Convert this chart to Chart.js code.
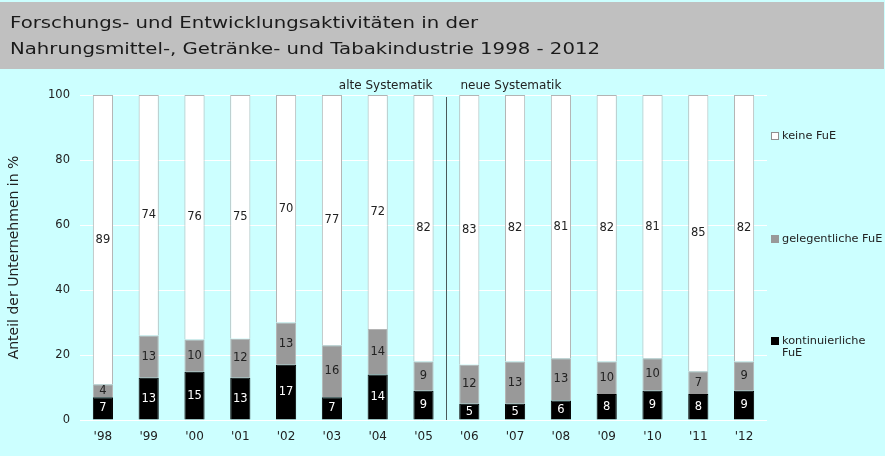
<!DOCTYPE html>
<html>
<head>
<meta charset="utf-8">
<script src="https://cdn.jsdelivr.net/npm/chart.js@4"></script>
<style>
  html, body { margin: 0; padding: 0; background: #CCFFFF; }
  canvas { display: block; }
</style>
</head>
<body>
<canvas id="c" width="885" height="456"></canvas>
<script>
// ---- data ----
const years = ["'98", "'99", "'00", "'01", "'02", "'03", "'04", "'05", "'06", "'07", "'08", "'09", "'10", "'11", "'12"];
const kontinuierlicheFuE = [7, 13, 15, 13, 17, 7, 14, 9, 5, 5, 6, 8, 9, 8, 9];
const gelegentlicheFuE = [4, 13, 10, 12, 13, 16, 14, 9, 12, 13, 13, 10, 10, 7, 9];
const keineFuE = [89, 74, 76, 75, 70, 77, 72, 82, 83, 82, 81, 82, 81, 85, 82];
const yTickValues = [0, 20, 40, 60, 80, 100];
const seriesNames = ["kontinuierliche FuE", "gelegentliche FuE", "keine FuE"];
const periodLabels = ["alte Systematik", "neue Systematik"];
const titleLines = ["Forschungs- und Entwicklungsaktivitäten in der", "Nahrungsmittel-, Getränke- und Tabakindustrie 1998 - 2012"];
const yAxisTitle = "Anteil der Unternehmen in %";
const breakAfterIndex = 7; // separator between '05 and '06

// 100%-stacked shares
const totals = years.map((_, i) => kontinuierlicheFuE[i] + gelegentlicheFuE[i] + keineFuE[i]);
const share = arr => arr.map((v, i) => v / totals[i] * 100);
const rawSeries = [kontinuierlicheFuE, gelegentlicheFuE, keineFuE];

const FONT = "'DejaVu Sans', Verdana, sans-serif";
const colors = ['#000000', '#999999', '#FFFFFF'];
const borders = ['#000000', '#B4B4B4', '#B4B4B4'];
const labelColors = ['#FFFFFF', '#222222', '#222222'];

const framePlugin = {
  id: 'frame',
  beforeDraw(chart) {
    const ctx = chart.ctx;
    ctx.save();
    ctx.fillStyle = '#CCFFFF';
    ctx.fillRect(0, 0, chart.width, chart.height);
    ctx.fillStyle = '#C0C0C0';
    ctx.fillRect(0, 2, 884, 67);
    ctx.fillStyle = '#1a1a1a';
    ctx.font = "16px " + FONT;
    ctx.textBaseline = 'alphabetic';
    ctx.textAlign = 'left';
    const w2 = ctx.measureText(titleLines[1]).width;
    const sx = 590 / w2;
    ctx.translate(10, 0);
    ctx.scale(sx, 1);
    ctx.fillText(titleLines[0], 0, 28);
    ctx.fillText(titleLines[1], 0, 54);
    ctx.restore();
  },
  afterDatasetsDraw(chart) {
    const ctx = chart.ctx;
    const xs = chart.scales.x;
    const ca = chart.chartArea;
    ctx.save();
    // separator
    const sx = Math.round((xs.getPixelForValue(breakAfterIndex) + xs.getPixelForValue(breakAfterIndex + 1)) / 2) + 0.5;
    ctx.strokeStyle = '#4A5A5A';
    ctx.lineWidth = 1;
    ctx.beginPath();
    ctx.moveTo(sx, ca.top + 2);
    ctx.lineTo(sx, ca.bottom);
    ctx.stroke();
    ctx.font = '12px ' + FONT;
    ctx.fillStyle = '#222222';
    ctx.textBaseline = 'middle';
    ctx.textAlign = 'right';
    ctx.fillText(periodLabels[0], sx - 14, ca.top - 9);
    ctx.textAlign = 'left';
    ctx.fillText(periodLabels[1], sx + 14, ca.top - 9);

    // data labels
    ctx.font = '11.5px ' + FONT;
    ctx.textAlign = 'center';
    chart.data.datasets.forEach((ds, di) => {
      const meta = chart.getDatasetMeta(di);
      meta.data.forEach((el, i) => {
        ctx.fillStyle = labelColors[di];
        ctx.fillText(String(rawSeries[di][i]), el.x, (el.y + el.base) / 2);
      });
    });

    // legend
    ctx.font = '11.3px ' + FONT;
    const items = [
      { name: [seriesNames[2]], y: 136, di: 2 },
      { name: [seriesNames[1]], y: 239, di: 1 },
      { name: ['kontinuierliche', 'FuE'], y: 341, di: 0 }
    ];
    ctx.textAlign = 'left';
    items.forEach(it => {
      ctx.fillStyle = colors[it.di];
      ctx.fillRect(771, it.y - 4, 8, 8);
      ctx.strokeStyle = it.di === 2 ? '#909090' : colors[it.di];
      ctx.strokeRect(771.5, it.y - 3.5, 7, 7);
      ctx.fillStyle = '#222222';
      it.name.forEach((line, li) => ctx.fillText(line, 782, it.y + li * 12));
    });
    ctx.restore();
  }
};

const datasets = rawSeries.map((arr, di) => ({
  label: seriesNames[di],
  data: share(arr),
  backgroundColor: colors[di],
  borderColor: borders[di],
  borderWidth: 1,
  barPercentage: 0.44,
  categoryPercentage: 1.0
}));

new Chart(document.getElementById('c'), {
  type: 'bar',
  data: { labels: years, datasets },
  options: {
    responsive: false,
    devicePixelRatio: 1,
    animation: false,
    layout: { padding: { top: 95, right: 118, left: 0, bottom: 0 } },
    plugins: { legend: { display: false }, tooltip: { enabled: false }, title: { display: false } },
    scales: {
      x: {
        stacked: true,
        grid: { display: false, drawTicks: false },
        border: { display: false },
        ticks: { color: '#222222', font: { family: FONT, size: 12 }, padding: 10 },
        afterFit(s) { s.height = 36; }
      },
      y: {
        stacked: true,
        min: 0, max: 100,
        afterBuildTicks(s) { s.ticks = yTickValues.map(v => ({ value: v })); },
        grid: { color: '#FFFFFF', lineWidth: 1, drawTicks: false },
        border: { display: false },
        ticks: { color: '#222222', font: { family: FONT, size: 11.5 }, padding: 10 },
        title: { display: true, text: yAxisTitle, color: '#222222', font: { family: FONT, size: 14 }, padding: { top: 6, bottom: 0 } },
        afterFit(s) { s.width = 80; }
      }
    }
  },
  plugins: [framePlugin]
});
</script>
</body>
</html>
